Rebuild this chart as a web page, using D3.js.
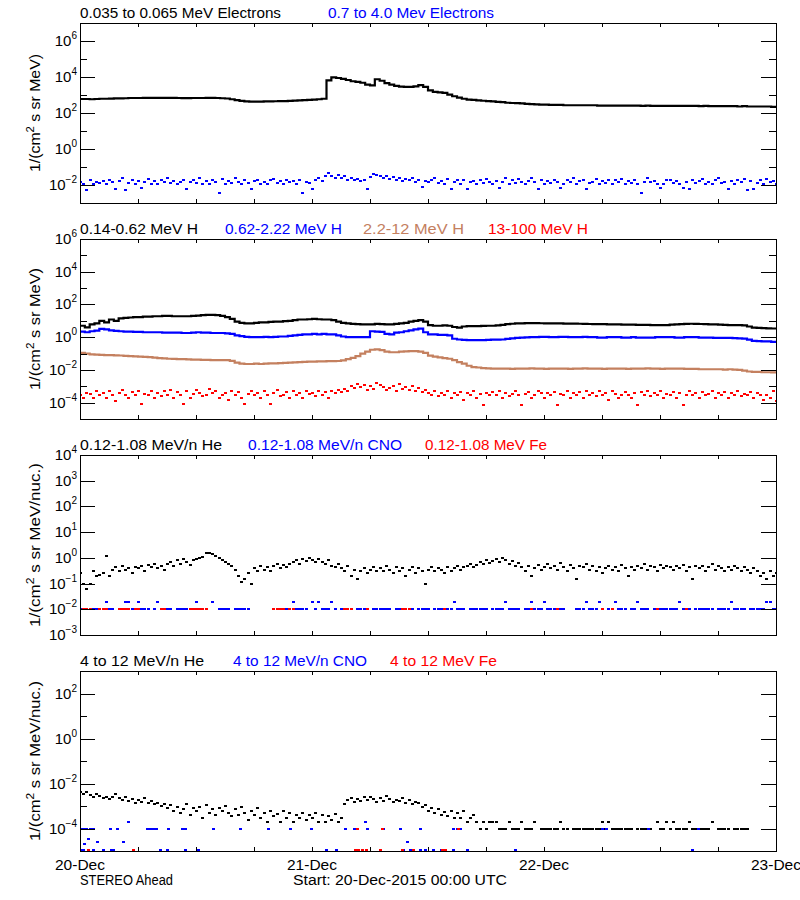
<!DOCTYPE html>
<html><head><meta charset="utf-8">
<script src="https://cdn.jsdelivr.net/npm/d3@7"></script>
<style>
html,body{margin:0;padding:0;background:#fff;}
svg{display:block;font-family:"Liberation Sans",Arial,sans-serif;}
</style></head><body>
<svg id="chart" width="800" height="900"></svg>
<script>
// ---------------- DATA ----------------
// Time range: 20-Dec-2015 00:00 UTC to 23-Dec-2015 00:00 UTC
// 30-minute series (145 values), 20-minute series (217 values)

// Panel 1: 0.035-0.065 MeV electrons (30 min)
const p1Black = [
6.0e2,6.0e2, 5.8e2,6.0e2, 6.2e2,6.2e2, 6.3e2,6.5e2, 6.5e2,6.6e2, 6.8e2,6.8e2, 6.8e2,7.0e2, 7.0e2,7.0e2,
7.0e2,7.0e2, 7.0e2,6.9e2, 6.8e2,6.7e2, 6.7e2,6.8e2, 6.8e2,6.8e2, 6.9e2,7.0e2, 6.8e2,6.6e2, 6.4e2,5.8e2,
5.2e2,4.7e2, 4.4e2,4.3e2, 4.3e2,4.3e2, 4.4e2,4.4e2, 4.5e2,4.6e2, 4.6e2,4.7e2, 4.9e2,5.0e2, 5.2e2,5.4e2,
5.6e2,5.8e2, 6.2e2,6.5e3, 9.5e3,8.8e3, 7.8e3,6.8e3, 5.8e3,5.4e3, 4.8e3,3.8e3, 3.4e3,7.5e3, 6.2e3,4.6e3,
3.8e3,3.2e3, 2.9e3,2.8e3, 2.8e3,3.0e3, 3.5e3,2.8e3, 1.8e3,1.5e3, 1.4e3,1.3e3, 1.05e3,8.5e2, 7.2e2,6.2e2,
5.6e2,5.3e2, 5.0e2,4.8e2, 4.6e2,4.4e2, 4.2e2,4.0e2, 3.7e2,3.6e2, 3.5e2,3.4e2, 3.2e2,3.1e2, 3.0e2,2.9e2,
2.9e2,2.8e2, 2.8e2,2.8e2, 2.7e2,2.7e2, 2.7e2,2.7e2, 2.7e2,2.7e2, 2.7e2,2.6e2, 2.6e2,2.6e2, 2.6e2,2.6e2,
2.6e2,2.6e2, 2.6e2,2.6e2, 2.5e2,2.6e2, 2.5e2,2.5e2, 2.5e2,2.5e2, 2.5e2,2.5e2, 2.5e2,2.5e2, 2.5e2,2.5e2,
2.4e2,2.5e2, 2.4e2,2.4e2, 2.4e2,2.4e2, 2.4e2,2.4e2, 2.3e2,2.4e2, 2.3e2,2.3e2, 2.3e2,2.3e2, 2.3e2,2.2e2,
2.2e2];

// Panel 1: 0.7-4.0 MeV electrons (20 min)
const p1Blue = [
1.5e-2,1.2e-2,5e-3, 1.8e-2,1.1e-2,1.4e-2, 1.3e-2,1.7e-2,1.2e-2, 2e-2,1.4e-2,6e-3,
1.6e-2,2.6e-2,5e-3, 1.3e-2,1.9e-2,1.1e-2, 1.7e-2,7e-3,1.4e-2, 2.2e-2,1.2e-2,1.6e-2,
1.1e-2,1.8e-2,1.4e-2, 2.4e-2,1.3e-2,1.7e-2, 1.2e-2,1.5e-2,2e-2, 6e-3,1.4e-2,1.8e-2,
1.3e-2,2.3e-2,1.1e-2, 1.6e-2,1.2e-2,1.9e-2, 1.4e-2,3.5e-3,2.1e-2, 1.2e-2,1.7e-2,1.3e-2,
2.4e-2,1.5e-2,1.1e-2, 1.8e-2,1.3e-2,6e-3, 1.6e-2,2e-2,1.2e-2, 1.4e-2,1.1e-2,1.9e-2,
2.2e-2,1.3e-2,1.6e-2, 1.2e-2,1.8e-2,1.4e-2, 1.7e-2,1.1e-2,2e-2, 3.5e-3,1.5e-2,1.3e-2,
6e-3,1.9e-2,2.4e-2, 1.6e-2,3e-2,4.5e-2, 3.3e-2,2.6e-2,3.8e-2, 2.4e-2,3e-2,2e-2,
2.6e-2,1.8e-2,2.2e-2, 1.6e-2,2e-2,6e-3, 2.8e-2,4.2e-2,3.6e-2, 3e-2,2.5e-2,3.2e-2,
2.2e-2,2.7e-2,1.9e-2, 2.4e-2,1.6e-2,2.1e-2, 1.8e-2,2.3e-2,1.5e-2, 2e-2,8e-3,1.7e-2,
1.4e-2,1.9e-2,2.4e-2, 1.3e-2,1.7e-2,1.2e-2, 2.1e-2,6e-3,1.5e-2, 1.8e-2,1.2e-2,2e-2,
6e-3,1.4e-2,1.6e-2, 1.2e-2,1.9e-2,1.3e-2, 2.2e-2,1.5e-2,1.1e-2, 1.7e-2,7e-3,1.4e-2,
2.6e-2,1.2e-2,1.8e-2, 1.3e-2,2.1e-2,1.5e-2, 1.1e-2,1.6e-2,2.3e-2, 1.4e-2,6e-3,1.9e-2,
1.2e-2,1.7e-2,1.3e-2, 2e-2,1.5e-2,7e-3, 1.1e-2,1.8e-2,1.4e-2, 2.4e-2,1.2e-2,1.6e-2,
1.9e-2,6e-3,1.3e-2, 1.5e-2,2.2e-2,1.1e-2, 1.7e-2,1.3e-2,2e-2, 1.2e-2,1.8e-2,1.4e-2,
2.1e-2,1.1e-2,1.6e-2, 1.3e-2,1.9e-2,1.2e-2, 3.5e-3,1.5e-2,2.3e-2, 1.4e-2,1.7e-2,1.1e-2,
7e-3,1.2e-2,1.8e-2, 2e-2,1.3e-2,1.6e-2, 1.1e-2,7e-3,1.5e-2, 6e-3,1.9e-2,1.3e-2,
1.6e-2,2.2e-2,1.2e-2, 1.4e-2,1.1e-2,1.8e-2, 2.5e-2,1.3e-2,1.5e-2, 6e-3,1.7e-2,1.2e-2,
1.9e-2,1.4e-2,2.1e-2, 5e-3,1.6e-2,6e-3, 1.3e-2,1.8e-2,1.1e-2, 2.2e-2,1.4e-2,1.7e-2,
1.2e-2];

// Panel 2: protons (30 min)
const p2Black = [
5,4, 6,7, 10,8, 12,10, 14,15, 16,17, 17,18, 18,19, 19,20, 20,19, 19,19, 19,20,
21,22, 23,23, 22,20, 17,13, 9,7.5, 7,7, 7.5,8, 8,8.5, 9,9, 9.5,10, 11,12, 12,12.5,
13,12.5, 12,12, 11,9, 7.5,7, 6.5,6.2, 6,6, 6,6.5, 6.2,6, 6,6.5, 7,7.5, 9,10, 11,9,
5.5,5, 5,5.2, 5,4.2, 3.8,4.5, 4.7,4.8, 4.8,4.9, 5,5, 5.2,5.6, 6.2,6.6, 7,7, 7.2,7.2, 7.2,7.1,
7,7, 7,6.9, 6.8,6.8, 6.7,6.6, 6.5,6.4, 6.3,6.2, 6.2,6, 6,6, 5.8,5.8, 5.8,5.6, 5.6,5.6, 5.5,5.5,
5.4,5.5, 5.8,6, 6.2,6.5, 6.6,6.5, 6.4,6.2, 6,6, 5.8,5.6, 5.5,5.4, 5.4,5.2, 4.5,3.8, 3.7,3.6, 3.5,3.4,
3.3];
const p2Blue = [
2.2,2, 2.3,2.5, 3.2,3, 2.6,2.4, 2.3,2.2, 2.2,2.1, 2.1,2, 2,2, 2,1.9, 1.9,1.9, 1.9,1.8, 1.8,1.9,
2,1.9, 1.9,1.8, 1.8,1.8, 1.7,1.6, 1.3,1.15, 1.05,1, 1,1, 1.05,1, 1.05,1.1, 1.1,1.2, 1.3,1.4, 1.5,1.5,
1.6,1.5, 1.6,1.5, 1.5,1.3, 1.1,1, 1,1, 1,1, 2.3,2.2, 2.1,1.6, 1.5,1.9, 2,2.3, 2.6,3, 3.3,2,
1.5,1.5, 1.4,1.4, 1.3,0.8, 0.72,0.68, 0.67,0.66, 0.66,0.67, 0.68,0.7, 0.7,0.72, 0.78,0.85, 0.9,0.95, 0.97,1, 1,1.05,
1.05,1, 1,1.05, 1.05,1, 1,1, 1.05,1, 1,0.95, 0.95,1, 1,1, 0.95,0.95, 1,0.95, 0.95,0.95, 0.95,1,
1,1, 1,0.95, 0.95,1, 1,1, 0.95,0.95, 0.95,0.9, 0.9,0.9, 0.9,0.88, 0.85,0.82, 0.7,0.6, 0.58,0.56, 0.55,0.52,
0.5];
const p2Sienna = [
0.11,0.1, 0.09,0.085, 0.082,0.08, 0.08,0.078, 0.076,0.072, 0.07,0.068, 0.065,0.062, 0.06,0.057,
0.053,0.05, 0.048,0.047, 0.046,0.045, 0.044,0.043, 0.042,0.041, 0.041,0.04, 0.04,0.04, 0.04,0.036,
0.028,0.024, 0.023,0.023, 0.024,0.023, 0.024,0.025, 0.025,0.026, 0.027,0.028, 0.029,0.03, 0.031,0.032,
0.032,0.033, 0.033,0.034, 0.034,0.035, 0.038,0.045, 0.055,0.07, 0.1,0.13, 0.17,0.18, 0.16,0.13,
0.12,0.12, 0.13,0.135, 0.14,0.14, 0.13,0.11, 0.075,0.065, 0.058,0.052, 0.048,0.04, 0.03,0.024,
0.018,0.015, 0.014,0.013, 0.0125,0.012, 0.012,0.012, 0.012,0.0115, 0.012,0.012, 0.012,0.0125, 0.012,0.012,
0.0115,0.012, 0.012,0.012, 0.012,0.0115, 0.012,0.012, 0.0125,0.012, 0.012,0.012, 0.0115,0.012, 0.012,0.012,
0.012,0.0115, 0.012,0.012, 0.012,0.0125, 0.012,0.012, 0.0115,0.012, 0.012,0.012, 0.012,0.0115, 0.0115,0.0115,
0.011,0.011, 0.011,0.011, 0.011,0.0105, 0.011,0.0105, 0.01,0.009, 0.008,0.0075, 0.0075,0.0072, 0.0072,0.007,
0.007];
// Panel 2: 13-100 MeV H (20 min)
const p2Red = [
3e-4,2e-4,4e-4, 3.5e-4,2e-4,5e-4, 3e-4,4e-4,2e-4, 5e-4,3e-4,1.2e-4,
4e-4,6e-4,3e-4, 2e-4,4.5e-4,3e-4, 5e-4,8e-5,3.5e-4, 3e-4,5e-4,2e-4,
4e-4,2.5e-4,5.5e-4, 3e-4,6e-4,2e-4, 4.5e-4,3e-4,8e-5, 5e-4,2e-4,3.5e-4,
6e-4,4e-4,2.5e-4, 3e-4,7e-4,4e-4, 5e-4,2e-4,3e-4, 4e-4,1.5e-4,5e-4,
3e-4,4.5e-4,2e-4, 8e-5,3.5e-4,5e-4, 3e-4,4e-4,2e-4, 5e-4,3e-4,8e-5,
4e-4,6e-4,2.5e-4, 3e-4,4.5e-4,2e-4, 5e-4,3e-4,4e-4, 2e-4,5e-4,3.5e-4,
4e-4,2.5e-4,5e-4, 3e-4,4.5e-4,2e-4, 5e-4,4e-4,6e-4, 4.5e-4,7e-4,5e-4,
1.1e-3,8e-4,1.4e-3, 9e-4,1.2e-3,6e-4, 1e-3,7e-4,1.5e-3, 1.2e-3,9e-4,6e-4,
8e-4,1.1e-3,5e-4, 1.3e-3,7e-4,9e-4, 6e-4,1e-3,5e-4, 8e-4,4.5e-4,6e-4,
4e-4,3e-4,5e-4, 2.5e-4,4e-4,3e-4, 5e-4,2e-4,4e-4, 3e-4,4.5e-4,1.5e-4,
4e-4,3e-4,5e-4, 2e-4,3.5e-4,7e-5, 4e-4,3e-4,4.5e-4, 3e-4,5e-4,2e-4,
4e-4,2.5e-4,3.5e-4, 5e-4,3e-4,7e-5, 3.5e-4,4.5e-4,2e-4, 3e-4,5e-4,4e-4,
2e-4,4e-4,3e-4, 4.5e-4,7e-5,3.5e-4, 3e-4,5e-4,2e-4, 4e-4,3e-4,4.5e-4,
2e-4,5e-4,3e-4, 4e-4,2.5e-4,5e-4, 3e-4,4e-4,1.5e-4, 5e-4,3.5e-4,2e-4,
3e-4,4.5e-4,3e-4, 2e-4,4e-4,7e-5, 4.5e-4,3e-4,5e-4, 2.5e-4,4e-4,3e-4,
5e-4,2e-4,3.5e-4, 3e-4,4.5e-4,2e-4, 4e-4,7e-5,3e-4, 5e-4,3e-4,4e-4,
2e-4,4.5e-4,3e-4, 3.5e-4,5e-4,2e-4, 4e-4,3e-4,4.5e-4, 2e-4,4e-4,3e-4,
5e-4,2.5e-4,3.5e-4, 3e-4,4.5e-4,2e-4, 4e-4,3e-4,1.5e-4, 3e-4,2e-4,5e-4,
1.2e-4];

// Panel 3: 0.12-1.08 MeV/n (20 min)
const p3He = [
0.25,0.1,0.06, 0.1,0.3,0.2, 0.22,0.25,1.2, 0.2,0.35,0.45,
0.3,0.5,0.35, 0.4,0.25,0.45, 0.4,0.5,0.3, 0.55,0.45,0.6,
0.4,0.5,0.35, 0.6,0.7,0.5, 0.8,0.6,0.9, 0.7,0.55,0.8,
0.9,1.0,1.1, 1.5,1.6,1.4, 1.2,1.0,0.8, 0.7,0.6,0.5,
0.35,0.2,0.12, 0.15,0.25,0.1, 0.4,0.3,0.5, 0.35,0.45,0.3,
0.5,0.6,0.4, 0.55,0.45,0.6, 0.7,0.8,0.6, 0.9,0.75,1.0,
0.8,0.7,0.9, 0.7,0.6,0.8, 0.5,0.45,0.6, 0.4,0.3,0.5,
0.2,0.35,0.15, 0.3,0.4,0.25, 0.35,0.45,0.3, 0.4,0.3,0.5,
0.35,0.25,0.45, 0.3,0.4,0.2, 0.35,0.45,0.25, 0.4,0.3,0.1,
0.35,0.45,0.3, 0.4,0.35,0.25, 0.45,0.3,0.4, 0.5,0.35,0.45,
0.5,0.6,0.45, 0.55,0.7,0.6, 0.8,0.65,0.75, 0.9,0.7,1.0,
0.8,0.6,0.75, 0.5,0.65,0.45, 0.3,0.5,0.2, 0.4,0.55,0.35,
0.45,0.6,0.4, 0.5,0.35,0.65, 0.45,0.3,0.55, 0.4,0.15,0.5,
0.45,0.6,0.35, 0.5,0.3,0.45, 0.25,0.4,0.5, 0.35,0.45,0.3,
0.55,0.4,0.2, 0.45,0.35,0.5, 0.4,0.6,0.35, 0.5,0.45,0.3,
0.55,0.4,0.5, 0.45,0.35,0.5, 0.4,0.55,0.3, 0.45,0.15,0.5,
0.4,0.5,0.3, 0.45,0.6,0.35, 0.5,0.4,0.3, 0.45,0.35,0.5,
0.4,0.3,0.45, 0.35,0.25,0.4, 0.3,0.2,0.25, 0.15,0.3,0.2,
0.25];
const p3Cno = [
1e-2,1e-2,1e-2, 1e-2,1e-2,1e-2, 1e-2,1e-2,2e-2, 1e-2,1e-2,null,
1e-2,1e-2,2e-2, 2e-2,1e-2,1e-2, 2e-2,1e-2,1e-2, 1e-2,null,1e-2,
2e-2,1e-2,1e-2, 1e-2,1e-2,null, 1e-2,1e-2,1e-2, 1e-2,null,1e-2,
2e-2,1e-2,1e-2, 1e-2,null,2e-2, null,1e-2,1e-2, 1e-2,1e-2,null,
1e-2,1e-2,1e-2, 1e-2,1e-2,null, null,null,null, null,null,null,
1e-2,1e-2,1e-2, null,1e-2,1e-2, 2e-2,1e-2,1e-2, 1e-2,1e-2,null,
2e-2,1e-2,2e-2, 1e-2,1e-2,1e-2, 2e-2,1e-2,null, 1e-2,1e-2,1e-2,
1e-2,null,1e-2, 1e-2,1e-2,1e-2, null,1e-2,1e-2, 1e-2,1e-2,1e-2,
1e-2,null,1e-2, 1e-2,1e-2,1e-2, 1e-2,1e-2,null, 1e-2,1e-2,1e-2,
1e-2,null,1e-2, 1e-2,1e-2,1e-2, 1e-2,1e-2,2e-2, 1e-2,1e-2,1e-2,
null,1e-2,1e-2, 1e-2,1e-2,1e-2, 1e-2,null,1e-2, 1e-2,1e-2,1e-2,
2e-2,1e-2,1e-2, 1e-2,1e-2,null, 1e-2,1e-2,2e-2, 1e-2,1e-2,1e-2,
2e-2,1e-2,1e-2, 1e-2,null,1e-2, 1e-2,null,null, null,1e-2,1e-2,
1e-2,2e-2,1e-2, 1e-2,1e-2,2e-2, 1e-2,null,1e-2, 1e-2,2e-2,1e-2,
1e-2,1e-2,null, 1e-2,1e-2,2e-2, 1e-2,1e-2,1e-2, null,1e-2,1e-2,
1e-2,1e-2,1e-2, 1e-2,1e-2,1e-2, 2e-2,1e-2,1e-2, 1e-2,null,1e-2,
1e-2,1e-2,1e-2, 1e-2,1e-2,null, 1e-2,1e-2,1e-2, 1e-2,2e-2,1e-2,
1e-2,1e-2,1e-2, null,1e-2,1e-2, 1e-2,1e-2,1e-2, 2e-2,2e-2,1e-2,
1e-2];
// [hour since start, value]
const p3Fe = [
[0.33,1e-2],[0.67,1e-2],[1,1e-2],[2,1e-2],[2.33,1e-2],[2.67,1e-2],[4,1e-2],[4.33,1e-2],[4.67,1e-2],
[5,1e-2],[5.67,1e-2],[6,1e-2],[8.33,1e-2],[8.67,1e-2],[11.33,1e-2],[11.67,1e-2],[12,1e-2],[12.33,1e-2],
[12.67,1e-2],[13,1e-2],[20,1e-2],[20.33,1e-2],[20.67,1e-2],[21,1e-2],[21.67,1e-2],[22,1e-2],[27.33,1e-2],
[27.67,1e-2],[28,1e-2],[29.67,1e-2],[33.33,1e-2],[33.67,1e-2],[34,1e-2],[37.67,1e-2],[46.67,1e-2],
[49.33,1e-2],[54,1e-2],[55,1e-2],[59.67,1e-2],[62.67,1e-2]];

// Panel 4: 4-12 MeV/n (20 min)
const p4He = [
4e-3,3.5e-3,4e-3, 3e-3,2.5e-3,3.5e-3, 2.8e-3,2.2e-3,2.6e-3, 2e-3,2.4e-3,3.5e-3,
2.2e-3,1.8e-3,2.5e-3, 1.6e-3,2e-3,1.4e-3, 1.8e-3,1.5e-3,2.2e-3, 1.3e-3,1.6e-3,1.2e-3,
1.4e-3,1e-3,1.2e-3, 8e-4,1.1e-3,6e-4, 9e-4,5e-4,7e-4, 1.2e-3,4e-4,8e-4,
6e-4,9e-4,3e-4, 1.1e-3,5e-4,7e-4, 4e-4,8e-4,6e-4, 1e-3,5e-4,3.5e-4,
7e-4,4e-4,9e-4, 5e-4,2.5e-4,6e-4, 4e-4,8e-4,3e-4, 5e-4,2e-4,6e-4,
3.5e-4,4.5e-4,2e-4, 6e-4,3e-4,5e-4, 2e-4,4e-4,3e-4, 5e-4,2.5e-4,4e-4,
3e-4,5e-4,2e-4, 4e-4,2e-4,3.5e-4, 2.5e-4,4.5e-4,2e-4, 3e-4,1.2e-3,1.8e-3,
2.2e-3,1.5e-3,2e-3, 1.6e-3,2.4e-3,1.8e-3, 2.5e-3,2e-3,1.5e-3, 2.2e-3,1.7e-3,2.8e-3,
2e-3,1.5e-3,1.9e-3, 1.6e-3,2.2e-3,1.3e-3, 1.8e-3,1.2e-3,1.5e-3, 1.4e-3,9e-4,1.1e-3,
6e-4,8e-4,5e-4, 7e-4,4e-4,5.5e-4, 3.5e-4,6e-4,3e-4, 5e-4,3e-4,6e-4,
2e-4,3e-4,4e-4, 2e-4,1e-4,2e-4, 1e-4,2e-4,2e-4, 2e-4,1e-4,1e-4,
1e-4,2e-4,1e-4, 1e-4,1e-4,2e-4, 1e-4,1e-4,1e-4, 2e-4,null,1e-4,
1e-4,1e-4,1e-4, 1e-4,1e-4,2e-4, 1e-4,1e-4,null, 1e-4,1e-4,1e-4,
1e-4,1e-4,1e-4, 1e-4,1e-4,1e-4, 2e-4,1e-4,2e-4, 1e-4,1e-4,1e-4,
1e-4,1e-4,1e-4, 1e-4,null,1e-4, 1e-4,1e-4,1e-4, 1e-4,null,2e-4,
1e-4,1e-4,2e-4, 1e-4,2e-4,1e-4, 1e-4,1e-4,1e-4, 2e-4,1e-4,1e-4,
1e-4,1e-4,1e-4, 1e-4,2e-4,null, 1e-4,1e-4,1e-4, 1e-4,null,1e-4,
1e-4,1e-4,1e-4, 1e-4,null,null, null,null,null, null,null,null,
null];
const p4Cno = [
[0,1e-4],[0.33,1e-4],[0.67,1e-4],[1,1e-4],[1.33,1e-4],[3.1,1e-4],[3.8,1e-4],[6.9,1e-4],[7.2,1e-4],
[7.6,1e-4],[7.9,1e-4],[9.1,1e-4],[10.6,1e-4],[10.9,1e-4],[13.8,1e-4],[16.6,1e-4],[19.4,1e-4],[21.7,1e-4],
[23.9,1e-4],[27.4,1e-4],[28.3,1e-4],[29.7,1e-4],[31.3,1e-4],[33.1,1e-4],[35.2,1e-4],[38.6,1e-4],[39,1e-4],
[39.3,1e-4],[54,1e-4],[54.4,1e-4],[58.8,1e-4],[63.9,1e-4],
[5,2e-4],[29.5,2e-4],
[0.8,3.5e-5],[0.4,2e-5],[1.8,2.4e-5],[4.4,2.4e-5],[33.8,2.4e-5],
[0,1e-5],[0.3,1e-5],[1.3,1e-5],[2.4,1e-5],[3.2,1e-5],[3.4,1e-5],[8.3,1e-5],[9,1e-5],[10.9,1e-5],
[12.2,1e-5],[25.4,1e-5],[26.5,1e-5],[33.4,1e-5],[34.1,1e-5],[35.2,1e-5],[35.7,1e-5],[36.5,1e-5],
[37.3,1e-5],[38.6,1e-5],[40,1e-5],[45,1e-5],[63.3,1e-5]];
const p4Fe = [
[0.8,1e-5],[5.5,1e-5],[28.4,1e-5],[28.8,1e-5],[29.2,1e-5],[29.6,1e-5],[31,1e-5],[33.3,1e-5],
[34.4,1e-5],[37.4,1e-5],[37.8,1e-5],[28.7,1e-4],[31.2,1e-4],[39.1,1e-4]];

// Titles / tick values
const p1Titles = ["0.035 to 0.065 MeV Electrons", "0.7 to 4.0 Mev Electrons"];
const p2Titles = ["0.14-0.62 MeV H", "0.62-2.22 MeV H", "2.2-12 MeV H", "13-100 MeV H"];
const p3Titles = ["0.12-1.08 MeV/n He", "0.12-1.08 MeV/n CNO", "0.12-1.08 MeV Fe"];
const p4Titles = ["4 to 12 MeV/n He", "4 to 12 MeV/n CNO", "4 to 12 MeV Fe"];
const p1Major = [1e6,1e4,1e2,1,1e-2], p1Minor = [1e5,1e3,1e1,1e-1];
const p2Major = [1e6,1e4,1e2,1,1e-2,1e-4], p2Minor = [1e5,1e3,1e1,1e-1,1e-3];
const p3Major = [1e4,1e3,1e2,1e1,1,1e-1,1e-2,1e-3], p3Minor = [];
const p4Major = [1e2,1,1e-2,1e-4], p4Minor = [1e1,1e-1,1e-3];
const unitMeV = ["1/(cm", "2", " s sr MeV)"];
const unitNuc = ["1/(cm", "2", " s sr MeV/nuc.)"];
const footLeft = "STEREO Ahead";
const footStart = "Start: 20-Dec-2015 00:00 UTC";

// ---------------- DRAWING ----------------
const START = new Date(Date.UTC(2015,11,20));
const END = new Date(Date.UTC(2015,11,23));
const grid = (arr, stepMin) => arr.map((v,i)=>({t:d3.utcMinute.offset(START, i*stepMin), v}));
const pairs = arr => arr.map(([h,v])=>({t:d3.utcMinute.offset(START, Math.round(h*60)), v}));

const C = {k:"#000000", b:"#0000ff", s:"#c4805f", r:"#ff0000"};
const X0 = 80, X1 = 776, PH = 180;
const svg = d3.select("#chart");
svg.append("rect").attr("width",800).attr("height",900).attr("fill","#fff");
const x = d3.scaleUtc().domain([START,END]).range([X0,X1]);

const panels = [
  {top:23, domain:[1e-3,1e7], major:p1Major, minor:p1Minor, unit:unitMeV, ulen:118,
   titles:p1Titles, tcol:[C.k,C.b], tx:[80,328], tw:[201,166],
   lines:[{d:grid(p1Black,30), c:C.k}], dots:[{d:grid(p1Blue,20), c:C.b}]},
  {top:239, domain:[1e-5,1e6], major:p2Major, minor:p2Minor, unit:unitMeV, ulen:122,
   titles:p2Titles, tcol:[C.k,C.b,C.s,C.r], tx:[80,225,363,488], tw:[118,117,101,100],
   lines:[{d:grid(p2Black,30), c:C.k},{d:grid(p2Blue,30), c:C.b},{d:grid(p2Sienna,30), c:C.s}],
   dots:[{d:grid(p2Red,20), c:C.r}]},
  {top:455, domain:[1e-3,1e4], major:p3Major, minor:p3Minor, unit:unitNuc, ulen:164,
   titles:p3Titles, tcol:[C.k,C.b,C.r], tx:[80,248,425], tw:[142,154,122],
   lines:[], dots:[{d:grid(p3He,20), c:C.k},{d:grid(p3Cno,20), c:C.b},{d:pairs(p3Fe), c:C.r}]},
  {top:671, domain:[1e-5,1e3], major:p4Major, minor:p4Minor, unit:unitNuc, ulen:160,
   titles:p4Titles, tcol:[C.k,C.b,C.r], tx:[80,233,390], tw:[124,134,107],
   lines:[], dots:[{d:grid(p4He,20), c:C.k},{d:pairs(p4Cno), c:C.b},{d:pairs(p4Fe), c:C.r}]}
];

panels.forEach((p, pi) => {
  const bottom = p.top + PH;
  const y = d3.scaleLog().domain(p.domain).range([bottom, p.top]);
  const g = svg.append("g");
  const cid = "clip" + pi;
  svg.append("clipPath").attr("id", cid).append("rect")
    .attr("x", X0).attr("y", p.top).attr("width", X1 - X0 + 1).attr("height", PH + 1);
  const plot = g.append("g").attr("clip-path", `url(#${cid})`);

  const line = d3.line().defined(d => d.v != null).x(d => x(d.t)).y(d => y(d.v)).curve(d3.curveStepAfter);
  p.lines.forEach(s => {
    plot.append("path").datum(s.d).attr("fill","none").attr("stroke", s.c)
      .attr("stroke-width", 2.2).attr("d", line);
  });
  p.dots.forEach(s => {
    plot.append("g").attr("fill", s.c).attr("shape-rendering","crispEdges")
      .selectAll("rect").data(s.d.filter(d => d.v != null)).join("rect")
      .attr("x", d => Math.round(x(d.t)) - 1)
      .attr("y", d => Math.min(Math.round(y(d.v)) - 1, bottom - 2))
      .attr("width", 3).attr("height", 2);
  });

  // frame
  g.append("rect").attr("x", X0 + 0.5).attr("y", p.top + 0.5)
    .attr("width", X1 - X0).attr("height", PH)
    .attr("fill","none").attr("stroke","#000").attr("stroke-width",1).attr("shape-rendering","crispEdges");

  const clean = sel => { sel.select(".domain").remove(); sel.selectAll("text").remove();
    sel.selectAll("line").attr("stroke","#000").attr("shape-rendering","crispEdges"); };
  // y ticks
  g.append("g").attr("transform",`translate(${X0},0)`)
    .call(d3.axisLeft(y).tickValues(p.major).tickSizeInner(-15).tickSizeOuter(0).tickFormat("")).call(clean);
  g.append("g").attr("transform",`translate(${X1},0)`)
    .call(d3.axisRight(y).tickValues(p.major).tickSizeInner(-15).tickSizeOuter(0).tickFormat("")).call(clean);
  if (p.minor.length) {
    g.append("g").attr("transform",`translate(${X0},0)`)
      .call(d3.axisLeft(y).tickValues(p.minor).tickSizeInner(-7).tickSizeOuter(0).tickFormat("")).call(clean);
    g.append("g").attr("transform",`translate(${X1},0)`)
      .call(d3.axisRight(y).tickValues(p.minor).tickSizeInner(-7).tickSizeOuter(0).tickFormat("")).call(clean);
  }
  // x ticks (every 6 h)
  g.append("g").attr("transform",`translate(0,${bottom})`)
    .call(d3.axisBottom(x).ticks(d3.utcHour.every(6)).tickSizeInner(-4).tickSizeOuter(0).tickFormat("")).call(clean);
  g.append("g").attr("transform",`translate(0,${p.top})`)
    .call(d3.axisTop(x).ticks(d3.utcHour.every(6)).tickSizeInner(-4).tickSizeOuter(0).tickFormat("")).call(clean);

  // y tick labels 10^n
  g.append("g").selectAll("text").data(p.major).join("text")
    .attr("x", 77).attr("y", d => y(d) + 5).attr("text-anchor","end")
    .attr("font-size", 15).attr("fill","#000")
    .each(function(d) {
      const e = Math.round(Math.log10(d));
      const t = d3.select(this);
      t.append("tspan").text("10");
      t.append("tspan").attr("dy", -7).attr("font-size", 10).text(e < 0 ? "\u2212" + (-e) : String(e));
    });

  // y axis title
  const yt = g.append("text")
    .attr("transform", `translate(40,${p.top + PH / 2}) rotate(-90)`)
    .attr("text-anchor","middle").attr("font-size",14).attr("fill","#000")
    .attr("textLength", p.ulen).attr("lengthAdjust","spacingAndGlyphs");
  yt.append("tspan").text(p.unit[0]);
  yt.append("tspan").attr("dy",-6).attr("font-size",10).text(p.unit[1]);
  yt.append("tspan").attr("dy",6).text(p.unit[2]);

  // panel titles
  p.titles.forEach((txt, i) => {
    g.append("text").attr("x", p.tx[i]).attr("y", p.top - 5)
      .attr("font-size", 14).attr("fill", p.tcol[i])
      .attr("textLength", p.tw[i]).attr("lengthAdjust","spacingAndGlyphs").text(txt);
  });

  // bottom date labels on last panel
  if (pi === panels.length - 1) {
    const fmt = d3.utcFormat("%d-%b");
    g.append("g").selectAll("text").data(x.ticks(d3.utcDay.every(1))).join("text")
      .attr("x", d => x(d)).attr("y", bottom + 19).attr("text-anchor","middle")
      .attr("font-size",14).attr("fill","#000")
      .attr("textLength",50).attr("lengthAdjust","spacingAndGlyphs").text(fmt);
    g.append("text").attr("x",80).attr("y",bottom + 34).attr("font-size",14)
      .attr("textLength",93).attr("lengthAdjust","spacingAndGlyphs").text(footLeft);
    g.append("text").attr("x",293).attr("y",bottom + 34).attr("font-size",14)
      .attr("textLength",214).attr("lengthAdjust","spacingAndGlyphs").text(footStart);
  }
});
</script></body></html>
